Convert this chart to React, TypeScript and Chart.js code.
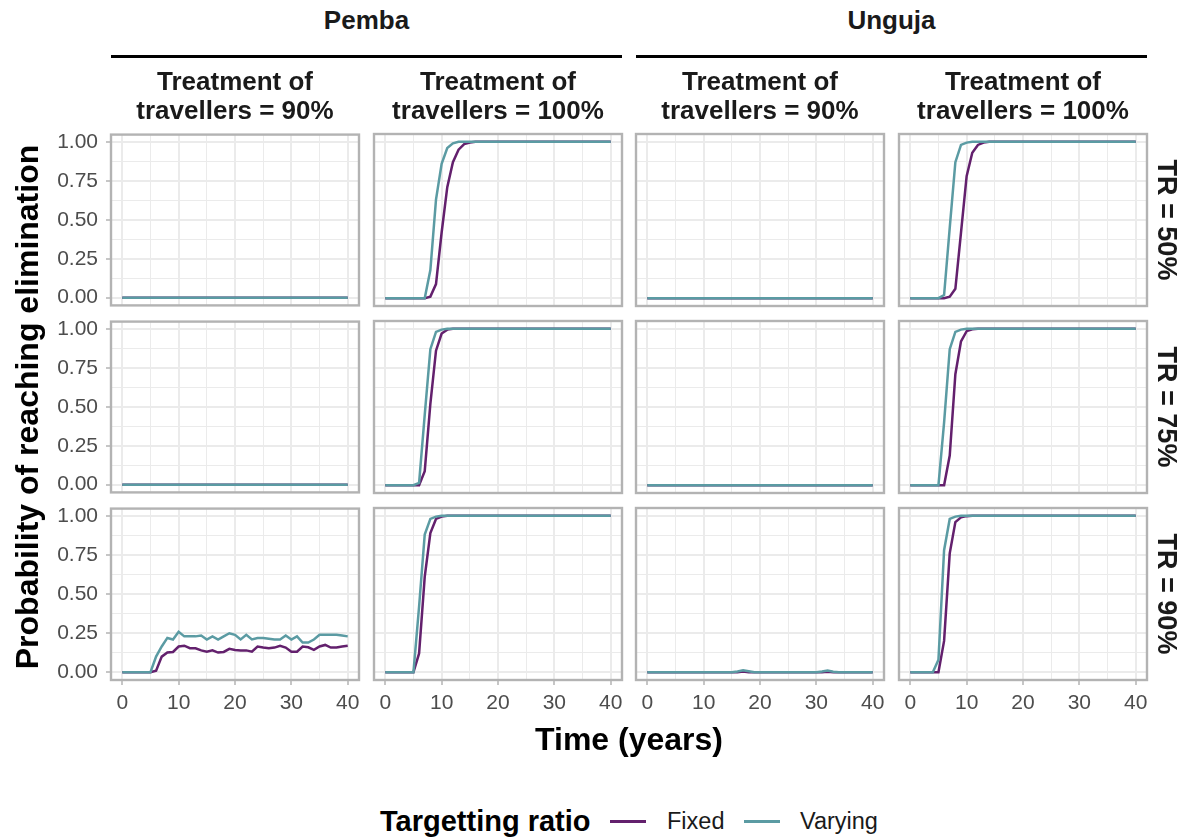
import React, { useEffect, useRef } from "react";
import { Chart, registerables } from "chart.js";

Chart.register(...registerables);

const FONT = '"Liberation Sans", Arial, Helvetica, sans-serif';

// ---------- data ----------
const years = [
  0, 1, 2, 3, 4, 5, 6, 7, 8, 9,
  10, 11, 12, 13, 14, 15, 16, 17, 18, 19,
  20, 21, 22, 23, 24, 25, 26, 27, 28, 29,
  30, 31, 32, 33, 34, 35, 36, 37, 38, 39,
  40,
];

const xGridValues = [0, 5, 10, 15, 20, 25, 30, 35, 40];
const xTickLabels = [0, 10, 20, 30, 40];
const yGridValues = [0, 0.125, 0.25, 0.375, 0.5, 0.625, 0.75, 0.875, 1];
const yTickLabels = [0, 0.25, 0.5, 0.75, 1];

const islands = ["Pemba", "Unguja"];
const treatmentLabels = ["Treatment of\ntravellers = 90%", "Treatment of\ntravellers = 100%"];
const trLabels = ["TR = 50%", "TR = 75%", "TR = 90%"];
const seriesNames = ["Fixed", "Varying"];
const seriesColors = ["#63206d", "#5b9ba3"];
const legendTitle = "Targetting ratio";
const xTitle = "Time (years)";
const yTitle = "Probability of reaching elimination";

const noElimination = [
  0, 0, 0, 0, 0, 0, 0, 0, 0, 0,
  0, 0, 0, 0, 0, 0, 0, 0, 0, 0,
  0, 0, 0, 0, 0, 0, 0, 0, 0, 0,
  0, 0, 0, 0, 0, 0, 0, 0, 0, 0,
  0,
];

// TR = 50%
const pemba100_tr50_fixed = [
  0, 0, 0, 0, 0, 0, 0, 0, 0.01, 0.09,
  0.42, 0.71, 0.87, 0.95, 0.985, 0.995, 1, 1, 1, 1,
  1, 1, 1, 1, 1, 1, 1, 1, 1, 1,
  1, 1, 1, 1, 1, 1, 1, 1, 1, 1,
  1,
];
const pemba100_tr50_varying = [
  0, 0, 0, 0, 0, 0, 0, 0, 0.18, 0.63,
  0.86, 0.96, 0.99, 1, 1, 1, 1, 1, 1, 1,
  1, 1, 1, 1, 1, 1, 1, 1, 1, 1,
  1, 1, 1, 1, 1, 1, 1, 1, 1, 1,
  1,
];
const unguja100_tr50_fixed = [
  0, 0, 0, 0, 0, 0, 0, 0.01, 0.06, 0.42,
  0.78, 0.93, 0.98, 0.995, 1, 1, 1, 1, 1, 1,
  1, 1, 1, 1, 1, 1, 1, 1, 1, 1,
  1, 1, 1, 1, 1, 1, 1, 1, 1, 1,
  1,
];
const unguja100_tr50_varying = [
  0, 0, 0, 0, 0, 0, 0.02, 0.45, 0.87, 0.98,
  0.995, 1, 1, 1, 1, 1, 1, 1, 1, 1,
  1, 1, 1, 1, 1, 1, 1, 1, 1, 1,
  1, 1, 1, 1, 1, 1, 1, 1, 1, 1,
  1,
];

// TR = 75%
const pemba100_tr75_fixed = [
  0, 0, 0, 0, 0, 0, 0, 0.09, 0.52, 0.86,
  0.97, 0.995, 1, 1, 1, 1, 1, 1, 1, 1,
  1, 1, 1, 1, 1, 1, 1, 1, 1, 1,
  1, 1, 1, 1, 1, 1, 1, 1, 1, 1,
  1,
];
const pemba100_tr75_varying = [
  0, 0, 0, 0, 0, 0, 0.015, 0.45, 0.87, 0.98,
  0.995, 1, 1, 1, 1, 1, 1, 1, 1, 1,
  1, 1, 1, 1, 1, 1, 1, 1, 1, 1,
  1, 1, 1, 1, 1, 1, 1, 1, 1, 1,
  1,
];
const unguja100_tr75_fixed = [
  0, 0, 0, 0, 0, 0, 0, 0.19, 0.71, 0.92,
  0.985, 0.997, 1, 1, 1, 1, 1, 1, 1, 1,
  1, 1, 1, 1, 1, 1, 1, 1, 1, 1,
  1, 1, 1, 1, 1, 1, 1, 1, 1, 1,
  1,
];
const unguja100_tr75_varying = [
  0, 0, 0, 0, 0, 0, 0.4, 0.87, 0.98, 0.995,
  1, 1, 1, 1, 1, 1, 1, 1, 1, 1,
  1, 1, 1, 1, 1, 1, 1, 1, 1, 1,
  1, 1, 1, 1, 1, 1, 1, 1, 1, 1,
  1,
];

// TR = 90%
const pemba90_tr90_fixed = [
  0, 0, 0, 0, 0, 0, 0.01, 0.1, 0.126, 0.13,
  0.165, 0.17, 0.154, 0.154, 0.14, 0.132, 0.14, 0.126, 0.13, 0.15,
  0.143, 0.14, 0.14, 0.132, 0.165, 0.158, 0.154, 0.158, 0.17, 0.158,
  0.132, 0.132, 0.165, 0.16, 0.143, 0.165, 0.175, 0.158, 0.158, 0.165,
  0.17,
];
const pemba90_tr90_varying = [
  0, 0, 0, 0, 0, 0, 0.1, 0.165, 0.22, 0.21,
  0.26, 0.23, 0.23, 0.23, 0.235, 0.21, 0.23, 0.21, 0.23, 0.25,
  0.24, 0.21, 0.24, 0.21, 0.22, 0.22, 0.215, 0.21, 0.21, 0.235,
  0.21, 0.23, 0.19, 0.19, 0.21, 0.24, 0.24, 0.24, 0.24, 0.235,
  0.23,
];
const pemba100_tr90_fixed = [
  0, 0, 0, 0, 0, 0, 0.12, 0.61, 0.89, 0.98,
  0.995, 1, 1, 1, 1, 1, 1, 1, 1, 1,
  1, 1, 1, 1, 1, 1, 1, 1, 1, 1,
  1, 1, 1, 1, 1, 1, 1, 1, 1, 1,
  1,
];
const pemba100_tr90_varying = [
  0, 0, 0, 0, 0, 0, 0.42, 0.88, 0.98, 0.995,
  1, 1, 1, 1, 1, 1, 1, 1, 1, 1,
  1, 1, 1, 1, 1, 1, 1, 1, 1, 1,
  1, 1, 1, 1, 1, 1, 1, 1, 1, 1,
  1,
];
const unguja90_tr90_fixed = [
  0, 0, 0, 0, 0, 0, 0, 0, 0, 0,
  0, 0, 0, 0, 0, 0, 0, 0.004, 0, 0,
  0, 0, 0, 0, 0, 0, 0, 0, 0, 0,
  0, 0, 0.003, 0, 0, 0, 0, 0, 0, 0,
  0,
];
const unguja90_tr90_varying = [
  0, 0, 0, 0, 0, 0, 0, 0, 0, 0,
  0, 0, 0, 0, 0, 0, 0.005, 0.012, 0.006, 0,
  0, 0, 0, 0, 0, 0, 0, 0, 0, 0,
  0, 0.004, 0.01, 0.003, 0, 0, 0, 0, 0, 0,
  0,
];
const unguja100_tr90_fixed = [
  0, 0, 0, 0, 0, 0, 0.2, 0.76, 0.96, 0.99,
  0.998, 1, 1, 1, 1, 1, 1, 1, 1, 1,
  1, 1, 1, 1, 1, 1, 1, 1, 1, 1,
  1, 1, 1, 1, 1, 1, 1, 1, 1, 1,
  1,
];
const unguja100_tr90_varying = [
  0, 0, 0, 0, 0, 0.08, 0.78, 0.98, 0.995, 1,
  1, 1, 1, 1, 1, 1, 1, 1, 1, 1,
  1, 1, 1, 1, 1, 1, 1, 1, 1, 1,
  1, 1, 1, 1, 1, 1, 1, 1, 1, 1,
  1,
];

// rows: TR 50/75/90 ; cols: Pemba 90, Pemba 100, Unguja 90, Unguja 100
const panelData: { fixed: number[]; varying: number[] }[][] = [
  [
    { fixed: noElimination, varying: noElimination },
    { fixed: pemba100_tr50_fixed, varying: pemba100_tr50_varying },
    { fixed: noElimination, varying: noElimination },
    { fixed: unguja100_tr50_fixed, varying: unguja100_tr50_varying },
  ],
  [
    { fixed: noElimination, varying: noElimination },
    { fixed: pemba100_tr75_fixed, varying: pemba100_tr75_varying },
    { fixed: noElimination, varying: noElimination },
    { fixed: unguja100_tr75_fixed, varying: unguja100_tr75_varying },
  ],
  [
    { fixed: pemba90_tr90_fixed, varying: pemba90_tr90_varying },
    { fixed: pemba100_tr90_fixed, varying: pemba100_tr90_varying },
    { fixed: unguja90_tr90_fixed, varying: unguja90_tr90_varying },
    { fixed: unguja100_tr90_fixed, varying: unguja100_tr90_varying },
  ],
];

// ---------- layout ----------
const COL_LEFT = [111, 374, 636, 899];
const ROW_TOP = [134, 321, 508];
const PANEL_W = 248;
const PANEL_H = 172;
const GRID_COLOR = "#ebebeb";
const TICK_COLOR = "#b3b3b3";
const BORDER_COLOR = "#b3b3b3";

const panelBorder = {
  id: "panelBorder",
  afterDraw(chart: any) {
    const { ctx, chartArea: a } = chart;
    ctx.save();
    ctx.strokeStyle = BORDER_COLOR;
    ctx.lineWidth = 2.4;
    ctx.strokeRect(a.left, a.top, a.right - a.left, a.bottom - a.top);
    ctx.restore();
  },
};

const near = (list: number[], v: any) =>
  typeof v === "number" && list.some((t) => Math.abs(t - v) < 1e-9);

function Panel({ row, col, fixed, varying }: { row: number; col: number; fixed: number[]; varying: number[] }) {
  const ref = useRef<HTMLCanvasElement | null>(null);
  const isLeft = col === 0;
  const isBottom = row === 2;
  const extL = isLeft ? 110 : 20;
  const extR = 20;
  const extT = 20;
  const extB = isBottom ? 80 : 20;
  const yAxisW = isLeft ? 60 : 0;
  const xAxisH = isBottom ? 50 : 0;
  const w = extL + PANEL_W + extR;
  const h = extT + PANEL_H + extB;

  useEffect(() => {
    if (!ref.current) return;
    const chart = new Chart(ref.current, {
      type: "line",
      data: {
        datasets: [
          {
            label: seriesNames[0],
            data: years.map((x, i) => ({ x, y: fixed[i] })),
            borderColor: seriesColors[0],
            backgroundColor: seriesColors[0],
            borderWidth: 2.5,
            pointRadius: 0,
            tension: 0,
            order: 1,
          },
          {
            label: seriesNames[1],
            data: years.map((x, i) => ({ x, y: varying[i] })),
            borderColor: seriesColors[1],
            backgroundColor: seriesColors[1],
            borderWidth: 2.5,
            pointRadius: 0,
            tension: 0,
            order: 0,
          },
        ],
      },
      options: {
        animation: false,
        responsive: false,
        maintainAspectRatio: false,
        events: [],
        layout: { padding: { left: extL - yAxisW, right: extR, top: extT, bottom: extB - xAxisH } },
        plugins: { legend: { display: false }, tooltip: { enabled: false } },
        scales: {
          x: {
            type: "linear",
            min: -2,
            max: 42,
            afterBuildTicks: (s: any) => {
              s.ticks = xGridValues.map((v) => ({ value: v }));
            },
            afterFit: (s: any) => {
              s.height = xAxisH;
            },
            border: { display: false },
            grid: {
              color: GRID_COLOR,
              lineWidth: (c: any) => (near(xTickLabels, c.tick?.value) ? 2 : 1),
              drawTicks: isBottom,
              tickLength: 5,
              tickWidth: 1.5,
              tickColor: (c: any) => (near(xTickLabels, c.tick?.value) ? TICK_COLOR : "rgba(0,0,0,0)"),
            },
            ticks: {
              display: isBottom,
              autoSkip: false,
              maxRotation: 0,
              padding: 6,
              color: "#4d4d4d",
              font: { family: FONT, size: 21 },
              callback: (v: any) => (near(xTickLabels, v) ? String(v) : ""),
            },
          },
          y: {
            type: "linear",
            min: -0.05,
            max: 1.05,
            afterBuildTicks: (s: any) => {
              s.ticks = yGridValues.map((v) => ({ value: v }));
            },
            afterFit: (s: any) => {
              s.width = yAxisW;
            },
            border: { display: false },
            grid: {
              color: GRID_COLOR,
              lineWidth: (c: any) => (near(yTickLabels, c.tick?.value) ? 2 : 1),
              drawTicks: isLeft,
              tickLength: 5,
              tickWidth: 1.5,
              tickColor: (c: any) => (near(yTickLabels, c.tick?.value) ? TICK_COLOR : "rgba(0,0,0,0)"),
            },
            ticks: {
              display: isLeft,
              autoSkip: false,
              padding: 8,
              color: "#4d4d4d",
              font: { family: FONT, size: 21 },
              callback: (v: any) => (near(yTickLabels, v) ? Number(v).toFixed(2) : ""),
            },
          },
        },
      },
      plugins: [panelBorder],
    } as any);
    return () => chart.destroy();
  }, []);

  return (
    <canvas
      ref={ref}
      width={w}
      height={h}
      style={{
        position: "absolute",
        left: COL_LEFT[col] - extL,
        top: ROW_TOP[row] - extT,
        width: w,
        height: h,
      }}
    />
  );
}

export default function App() {
  const stripStyle: React.CSSProperties = {
    position: "absolute",
    fontFamily: FONT,
    fontWeight: 700,
    color: "#1a1a1a",
    textAlign: "center",
    whiteSpace: "pre-line",
  };
  return (
    <div
      style={{
        position: "absolute",
        left: 0,
        top: 0,
        width: 1190,
        height: 838,
        background: "#ffffff",
        overflow: "hidden",
      }}
    >
      {panelData.map((rowData, r) =>
        rowData.map((d, c) => <Panel key={`${r}-${c}`} row={r} col={c} fixed={d.fixed} varying={d.varying} />)
      )}

      {/* island strips */}
      {islands.map((name, i) => {
        const left = COL_LEFT[i * 2];
        const right = COL_LEFT[i * 2 + 1] + PANEL_W;
        return (
          <React.Fragment key={name}>
            <div
              style={{
                ...stripStyle,
                left,
                width: right - left,
                top: 6,
                height: 28,
                lineHeight: "28px",
                fontSize: 26,
              }}
            >
              {name}
            </div>
            <div
              style={{
                position: "absolute",
                left,
                width: right - left,
                top: 55,
                height: 3,
                background: "#000",
              }}
            />
          </React.Fragment>
        );
      })}

      {/* treatment strips */}
      {COL_LEFT.map((left, c) => (
        <div
          key={`t${c}`}
          style={{
            ...stripStyle,
            left,
            width: PANEL_W,
            top: 67,
            lineHeight: "28.5px",
            fontSize: 26,
          }}
        >
          {treatmentLabels[c % 2]}
        </div>
      ))}

      {/* TR strips (right) */}
      {ROW_TOP.map((top, r) => (
        <div
          key={`r${r}`}
          style={{
            ...stripStyle,
            left: 1167 - PANEL_H / 2,
            top: top + PANEL_H / 2 - 15,
            width: PANEL_H,
            height: 30,
            lineHeight: "30px",
            fontSize: 27,
            transform: "rotate(90deg)",
          }}
        >
          {trLabels[r]}
        </div>
      ))}

      {/* y axis title */}
      <div
        style={{
          position: "absolute",
          left: 27 - 300,
          top: 407 - 19,
          width: 600,
          height: 38,
          lineHeight: "38px",
          textAlign: "center",
          fontFamily: FONT,
          fontWeight: 700,
          fontSize: 32,
          color: "#000",
          transform: "rotate(-90deg)",
        }}
      >
        {yTitle}
      </div>

      {/* x axis title */}
      <div
        style={{
          position: "absolute",
          left: 329,
          top: 739 - 19,
          width: 600,
          height: 38,
          lineHeight: "38px",
          textAlign: "center",
          fontFamily: FONT,
          fontWeight: 700,
          fontSize: 32,
          color: "#000",
        }}
      >
        {xTitle}
      </div>

      {/* legend */}
      <div
        style={{
          position: "absolute",
          left: 380,
          top: 821 - 18,
          height: 36,
          lineHeight: "36px",
          fontFamily: FONT,
          fontWeight: 700,
          fontSize: 29,
          color: "#000",
          whiteSpace: "nowrap",
        }}
      >
        {legendTitle}
      </div>
      {seriesNames.map((name, i) => {
        const keyLeft = [610, 744][i];
        const textLeft = [667, 800][i];
        return (
          <React.Fragment key={name}>
            <div
              style={{
                position: "absolute",
                left: keyLeft,
                top: 820,
                width: 36,
                height: 2.5,
                background: seriesColors[i],
              }}
            />
            <div
              style={{
                position: "absolute",
                left: textLeft,
                top: 821 - 15,
                height: 30,
                lineHeight: "30px",
                fontFamily: FONT,
                fontSize: 23.5,
                color: "#1a1a1a",
                whiteSpace: "nowrap",
              }}
            >
              {name}
            </div>
          </React.Fragment>
        );
      })}
    </div>
  );
}
